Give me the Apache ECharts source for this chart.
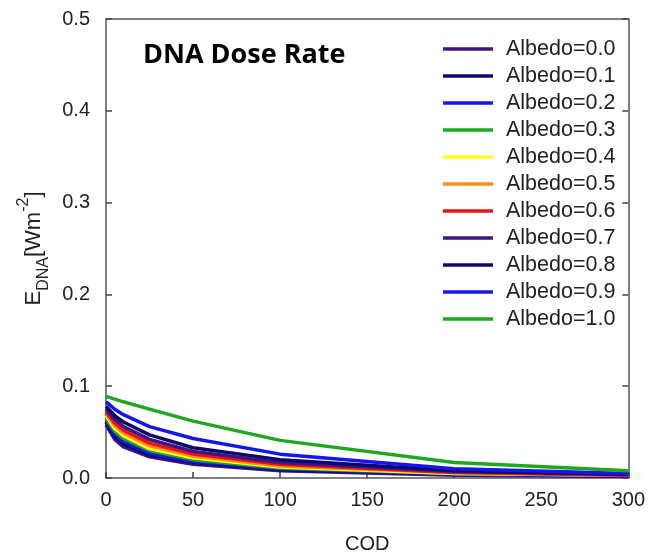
<!DOCTYPE html>
<html><head><meta charset="utf-8">
<script src="https://cdn.jsdelivr.net/npm/echarts@6/dist/echarts.min.js"></script>
<style>html,body{margin:0;padding:0;background:#fff}#c{width:648px;height:559px}</style>
</head><body><div id="c"></div>
<script>
const cod = [0, 5, 10, 25, 50, 100, 200, 300];
const seriesNames = ['Albedo=0.0','Albedo=0.1','Albedo=0.2','Albedo=0.3','Albedo=0.4','Albedo=0.5','Albedo=0.6','Albedo=0.7','Albedo=0.8','Albedo=0.9','Albedo=1.0'];
const a00 = [0.058, 0.042, 0.034, 0.023, 0.015, 0.008, 0.003, 0.002];
const a01 = [0.061, 0.045, 0.037, 0.025, 0.017, 0.009, 0.004, 0.002];
const a02 = [0.063, 0.048, 0.040, 0.027, 0.018, 0.010, 0.004, 0.002];
const a03 = [0.065, 0.051, 0.043, 0.030, 0.020, 0.011, 0.005, 0.003];
const a04 = [0.068, 0.054, 0.046, 0.032, 0.022, 0.012, 0.005, 0.003];
const a05 = [0.070, 0.057, 0.049, 0.035, 0.024, 0.013, 0.006, 0.003];
const a06 = [0.072, 0.060, 0.052, 0.038, 0.026, 0.015, 0.006, 0.003];
const a07 = [0.075, 0.064, 0.056, 0.042, 0.029, 0.017, 0.007, 0.004];
const a08 = [0.078, 0.068, 0.061, 0.047, 0.033, 0.020, 0.008, 0.004];
const a09 = [0.083, 0.075, 0.069, 0.056, 0.043, 0.026, 0.010, 0.005];
const a10 = [0.089, 0.086, 0.083, 0.075, 0.062, 0.041, 0.017, 0.008];
const values = [a00,a01,a02,a03,a04,a05,a06,a07,a08,a09,a10];
const colors = ['#3f1680','#0a0a6e','#1515f0','#1fa81f','#ffff1a','#ff8c1a','#f01010','#3f1680','#0a0a6e','#1515f0','#1fa81f'];
const xTicks = [0, 50, 100, 150, 200, 250, 300];
const yTicks = [0, 0.1, 0.2, 0.3, 0.4, 0.5];

const chart = echarts.init(document.getElementById('c'));
const axisLine = {show:true, onZero:false, lineStyle:{color:'#555', width:1.5}};
const tick = {show:true, inside:true, length:6, lineStyle:{color:'#444', width:1.5}};
const font = 'Liberation Sans, Arial, sans-serif';
chart.setOption({
  animation:false,
  grid:{left:106, top:19, right:16, bottom:73},
  title:{text:'DNA Dose Rate', left:138, top:37, textStyle:{fontFamily:'Open Sans, sans-serif', fontWeight:'bold', fontSize:27, color:'#000'}},
  legend:{orient:'vertical', left:438, top:33, itemWidth:50, itemHeight:3.5, itemGap:5, icon:'rect',
    textStyle:{fontFamily:font, fontSize:21.5, color:'#222', lineHeight:22, padding:[0,0,0,8]},
    data:seriesNames},
  xAxis:[{type:'value', min:0, max:300, interval:50, name:'COD', nameLocation:'middle', nameGap:56,
    nameTextStyle:{fontFamily:font, fontSize:20, color:'#222'},
    axisLine:axisLine, axisTick:tick,
    axisLabel:{fontFamily:font, fontSize:20, color:'#222', margin:12, formatter:v=>xTicks.includes(v)?String(v):''},
    splitLine:{show:false}},
    {type:'value', min:0, max:300, position:'top', axisLine:axisLine, axisTick:{show:false}, axisLabel:{show:false}, splitLine:{show:false}}],
  yAxis:[{type:'value', min:0, max:0.5, interval:0.1,
    name:'{m|E}{s|DNA}{m|[Wm}{p|-2}{m|]}', nameLocation:'middle', nameGap:56, nameRotate:90,
    nameTextStyle:{rich:{m:{fontFamily:font, fontSize:22, color:'#222', verticalAlign:'bottom', lineHeight:26},
      s:{fontFamily:font, fontSize:16, color:'#222', verticalAlign:'bottom', lineHeight:20, padding:[0,0,-6,0]},
      p:{fontFamily:font, fontSize:16, color:'#222', verticalAlign:'top', lineHeight:20, padding:[-4,0,0,0]}}},
    axisLine:axisLine, axisTick:tick,
    axisLabel:{fontFamily:font, fontSize:20, color:'#222', margin:16, formatter:v=>yTicks.some(t=>Math.abs(t-v)<1e-9)?v.toFixed(1):''},
    splitLine:{show:false}},
    {type:'value', min:0, max:0.5, interval:0.1, position:'right', axisLine:axisLine,
    axisTick:tick, axisLabel:{show:false}, splitLine:{show:false}}],
  series: values.map((v,i)=>({name:seriesNames[i], type:'line', symbol:'none', z: 2+i,
    color:colors[i], lineStyle:{width:3.5, color:colors[i]},
    data: cod.map((c,j)=>[c, v[j]])}))
});
</script></body></html>
